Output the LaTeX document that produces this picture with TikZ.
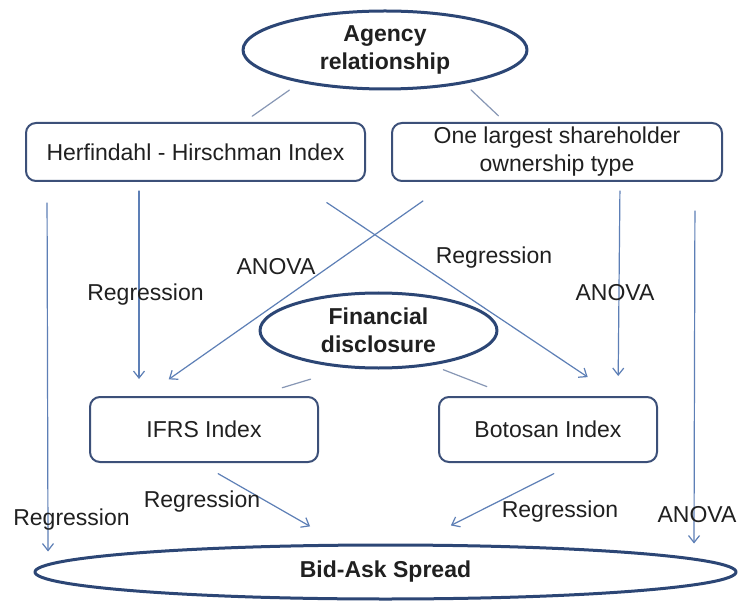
\documentclass[tikz,border=0pt]{standalone}
\usepackage{fontspec}
\setmainfont{Liberation Sans}
\usepackage{tikz}
\usetikzlibrary{shapes.geometric}
\usetikzlibrary{arrows.meta}
\definecolor{boxline}{HTML}{3C5079}
\definecolor{ovalline}{HTML}{2C4675}
\definecolor{flowline}{HTML}{5D7FB6}
\definecolor{linkline}{HTML}{8797B5}
\definecolor{txt}{HTML}{202020}

\begin{document}
\begin{tikzpicture}
    [line cap=round,line join=round,x=1pt,y=-1pt,
     font=\fontsize{23}{28}\selectfont,text=txt,
     box/.style={draw=boxline,line width=2pt,rounded corners=10pt,inner sep=0pt,align=center},
     oval/.style={ellipse,draw=ovalline,line width=3pt,inner sep=0pt,align=center,font=\fontsize{23}{28}\selectfont\bfseries},
     flow/.style={draw=flowline,line width=1.2pt,-{Straight Barb[length=7pt,width=11pt]}},
     link/.style={draw=linkline,line width=1.2pt},
     lbl/.style={inner sep=0pt}]
%page
 \fill[white] (0,0) rectangle (738,601);
 \useasboundingbox (0,0) rectangle (738,601);

%main nodes
 \node[oval,minimum width=284pt,minimum height=78pt] (agency) at (385,50) {Agency\\relationship};
 \node[box,minimum width=339pt,minimum height=58pt] (hhi) at (195.5,152) {Herfindahl - Hirschman Index};
 \node[box,minimum width=330pt,minimum height=58pt] (owner) at (557,152) {One largest shareholder\\ownership type};
 \node[oval,minimum width=237pt,minimum height=75pt] (fin) at (378.5,330.5) {Financial\\disclosure};
 \node[box,minimum width=228pt,minimum height=65pt] (ifrs) at (204,429.5) {IFRS Index};
 \node[box,minimum width=218pt,minimum height=65pt] (botosan) at (548,429.5) {Botosan Index};
 \node[oval,minimum width=701pt,minimum height=54pt] (spread) at (385.5,572) {\raisebox{-5pt}{Bid-Ask Spread}};

%plain links
 \draw[link,shorten <=13pt,shorten >=10pt] (agency.201) -- ([xshift=48.5pt]hhi.north);
 \draw[link,shorten <=9pt,shorten >=9pt] (agency.337) -- ([xshift=-52pt]owner.north);
 \draw[link,shorten <=38pt,shorten >=28.5pt] (fin.230) -- ([xshift=51pt]ifrs.north);
 \draw[link,shorten <=12pt,shorten >=26pt] (fin.327) -- ([xshift=-37pt]botosan.north);

%arrows
 \draw[flow,shorten <=21pt,shorten >=-8pt] ([xshift=22pt]hhi.south west) -- ([xshift=-337.5pt]spread.north);
 \draw[flow,shorten <=29pt] ([xshift=-28pt]owner.south east) -- ([xshift=308.5pt]spread.north);
 \draw[flow,shorten <=9pt,shorten >=17pt] ([xshift=114pt]hhi.south west) -- ([xshift=50pt]ifrs.north west);
 \draw[flow,shorten <=9pt,shorten >=20pt] ([xshift=-103pt]owner.south east) -- ([xshift=180pt]botosan.north west);
 \draw[flow,shorten <=33pt,shorten >=29pt] ([xshift=59pt]owner.south west) -- ([xshift=56pt]ifrs.north west);
 \draw[flow,shorten <=37pt,shorten >=34pt] ([xshift=271pt]hhi.south west) -- ([xshift=178pt]botosan.north west);
 \draw[flow,shorten <=21.5pt,shorten >=34.5pt] ([xshift=-4.5pt]ifrs.south) -- ([xshift=-45.5pt]spread.north);
 \draw[flow,shorten <=23.7pt,shorten >=40.2pt] ([xshift=27pt]botosan.south) -- ([xshift=29.5pt]spread.north);

%method labels
 \node[lbl] (regA) at (145.5,295) {Regression};
 \node[lbl] (anovaA) at (276,267) {ANOVA};
 \node[lbl] (regB) at (494,258) {Regression};
 \node[lbl] (anovaB) at (615,293) {ANOVA};
 \node[lbl] (regC) at (202,502) {Regression};
 \node[lbl] (regD) at (560,512) {Regression};
 \node[lbl] (regE) at (71.5,520) {Regression};
 \node[lbl] (anovaC) at (697,515) {ANOVA};

\end{tikzpicture}
\end{document}
